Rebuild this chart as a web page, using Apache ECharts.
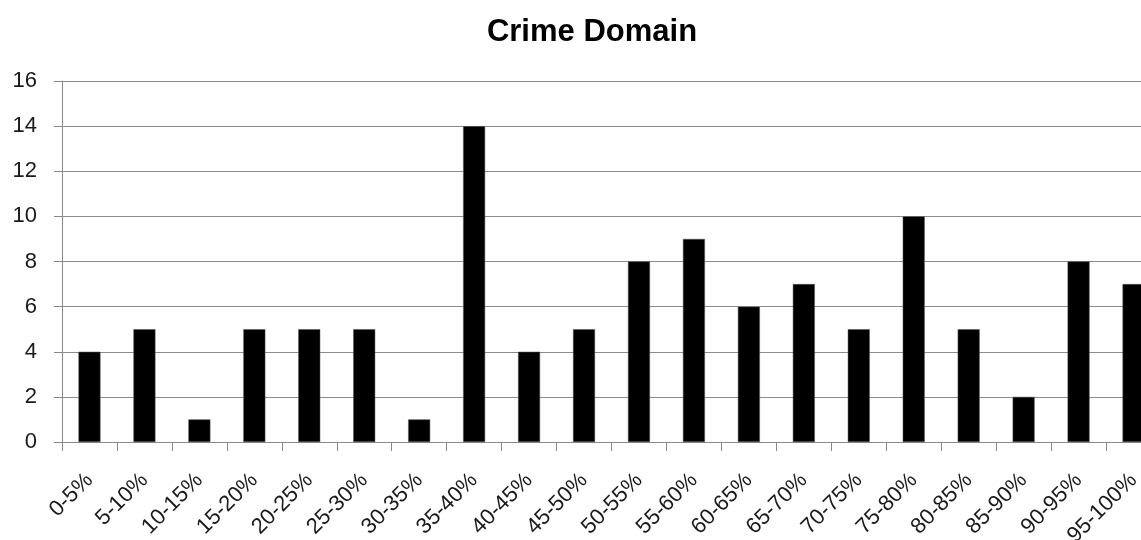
<!DOCTYPE html>
<html>
<head>
<meta charset="utf-8">
<script src="https://cdn.jsdelivr.net/npm/echarts@6/dist/echarts.min.js"></script>
<style>
html,body{margin:0;padding:0;background:#fff;}
#chart{width:1141px;height:540px;}
</style>
</head>
<body>
<div id="chart"></div>
<script>
// 数据
var categories=['0-5%','5-10%','10-15%','15-20%','20-25%','25-30%','30-35%','35-40%','40-45%','45-50%',
	'50-55%','55-60%','60-65%','65-70%','70-75%','75-80%','80-85%','85-90%','90-95%','95-100%'];
var counts=[4,5,1,5,5,5,1,14,4,5,8,9,6,7,5,10,5,2,8,7];
var yTicks={min:0,max:16,interval:2};

var myChart=echarts.init(document.getElementById('chart'));
var option={
	animation:false,
	title:{
		text:'Crime Domain',left:587,top:12,textAlign:'center',
		textStyle:{fontFamily:'Liberation Sans',fontSize:31,fontWeight:'bold',color:'#000'}
	},
	// 右边被裁掉一点，所以宽度超出画布
	grid:{left:62,width:1099,top:81,height:361,outerBoundsMode:'none'},
	xAxis:{
		type:'category',data:categories,
		axisLine:{lineStyle:{color:'#888',width:1}},
		axisTick:{show:true,length:9,lineStyle:{color:'#888'}},
		axisLabel:{rotate:45,interval:0,margin:35,fontFamily:'Liberation Sans',fontSize:22,color:'#1a1a1a'}
	},
	yAxis:{
		type:'value',min:yTicks.min,max:yTicks.max,interval:yTicks.interval,
		axisLine:{show:true,lineStyle:{color:'#888'}},
		axisTick:{show:true,length:8,lineStyle:{color:'#888'}},
		splitLine:{lineStyle:{color:'#8c8c8c',width:1}},
		axisLabel:{margin:25,fontFamily:'Liberation Sans',fontSize:22,color:'#1a1a1a'}
	},
	series:[{
		type:'bar',data:counts,barCategoryGap:'60%',
		itemStyle:{color:'#000',borderColor:'#555',borderWidth:0.5}
	}]
};
myChart.setOption(option);
</script>
</body>
</html>
